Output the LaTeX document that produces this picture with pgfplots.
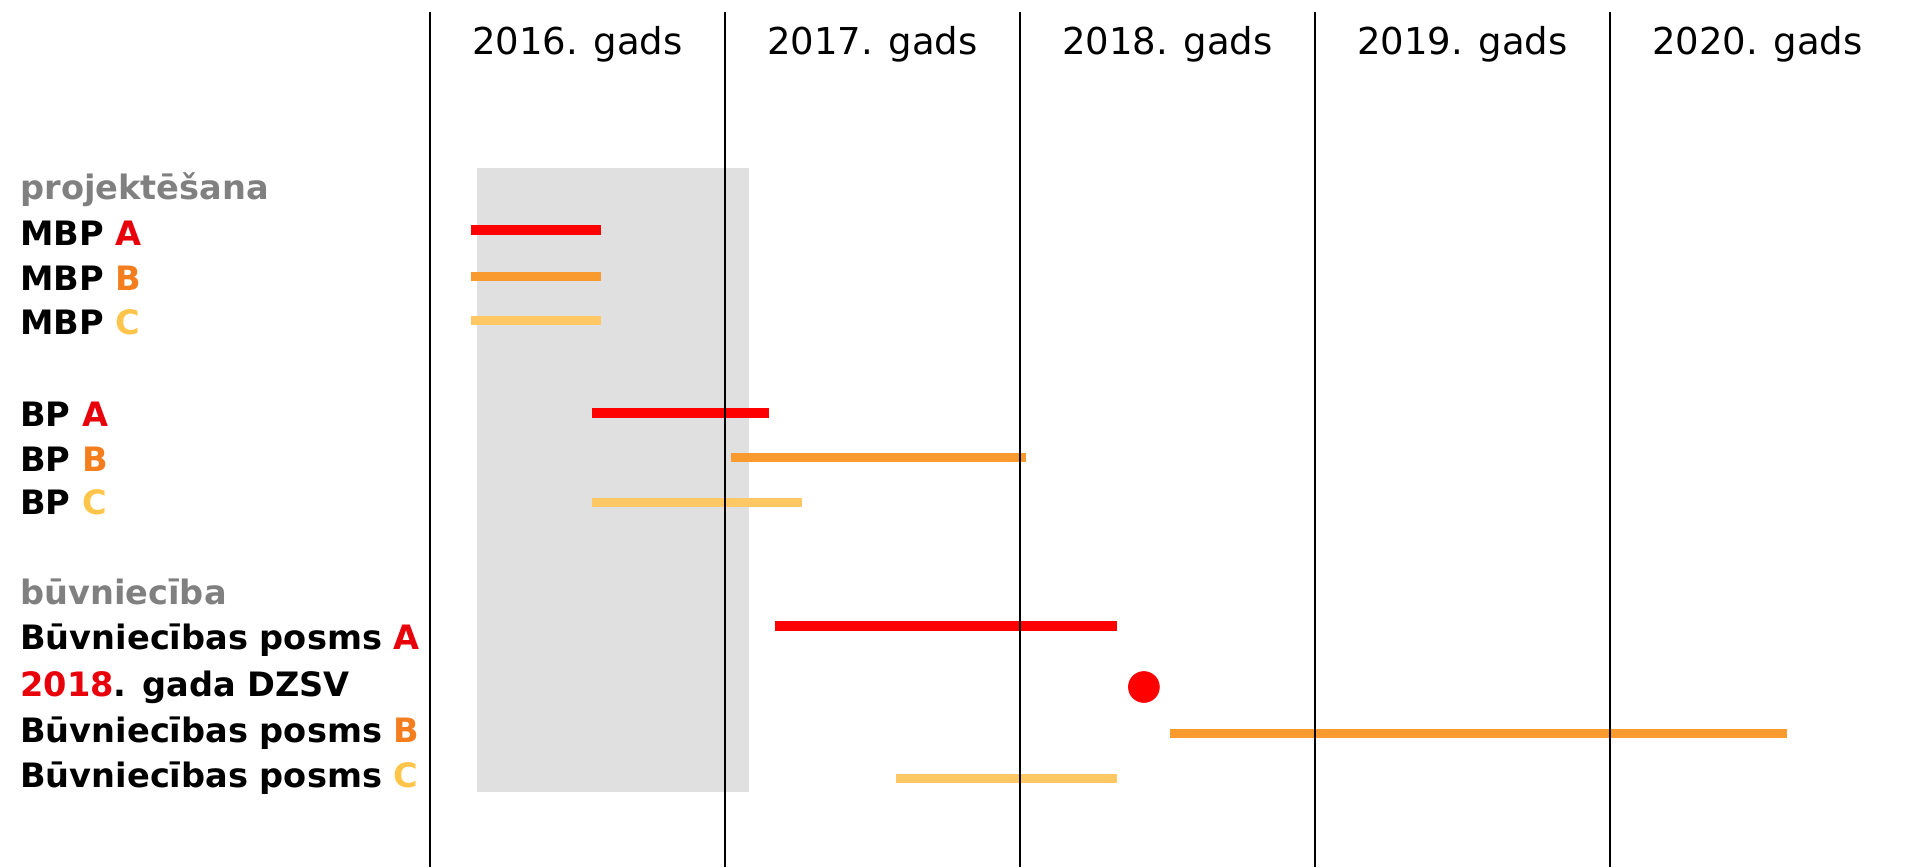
\documentclass[border=0pt]{standalone}
\usepackage{fontspec}
\setmainfont{DejaVu Sans}
\usepackage{pgfplots}
\pgfplotsset{compat=1.18}
\definecolor{cRed}{HTML}{FF0000}
\definecolor{cOrange}{HTML}{F99A2E}
\definecolor{cYellow}{HTML}{FFC864}
\definecolor{lRed}{HTML}{E8000B}
\definecolor{lOrange}{HTML}{F47D1E}
\definecolor{lYellow}{HTML}{FFC54A}
\definecolor{lGray}{HTML}{808080}
\definecolor{boxGray}{HTML}{E0E0E0}
\begin{document}
\begin{tikzpicture}
\begin{axis}[
  scale only axis, width=737.5pt, height=427.5pt,
  xmin=2016, xmax=2021, ymin=0, ymax=855,
  axis line style={draw=none},
  axis on top,
  clip=false,
  xtick={2016.5,2017.5,2018.5,2019.5,2020.5},
  xticklabels={2016. gads,2017. gads,2018. gads,2019. gads,2020. gads},
  xticklabel pos=upper,
  xticklabel style={anchor=base, inner sep=0pt, yshift=-21.15pt, font=\fontsize{18.5}{22}\selectfont},
  minor xtick={2016,2017,2018,2019,2020},
  xminorgrids,
  minor grid style={black, line width=0.8pt},
  major tick length=0pt, minor tick length=0pt,
  ytick={92.5,137.5,182.5,229.5,274.5,364.5,407.5,452.5,544.5,588.5,633.5,679.5},
  yticklabels={
    {Būvniecības posms {\color{lYellow}C}},
    {Būvniecības posms {\color{lOrange}B}},
    {{\color{lRed}2018}. gada DZSV},
    {Būvniecības posms {\color{lRed}A}},
    {\color{lGray}būvniecība},
    {BP {\color{lYellow}C}},
    {BP {\color{lOrange}B}},
    {BP {\color{lRed}A}},
    {MBP {\color{lYellow}C}},
    {MBP {\color{lOrange}B}},
    {MBP {\color{lRed}A}},
    {\color{lGray}projektēšana}},
  yticklabel style={anchor=base west, inner sep=0pt, xshift=-205pt, yshift=-6.25pt, font=\fontsize{16.8}{20}\selectfont\bfseries},
]
% grey background block
\addplot[fill=boxGray, draw=none] coordinates {(2016.16,75) (2017.08,75) (2017.08,699) (2016.16,699)} -- cycle;
% projektēšana
\addplot[cRed, line width=4.8pt] coordinates {(2016.14,637) (2016.58,637)};
\addplot[cOrange, line width=4.5pt] coordinates {(2016.14,590) (2016.58,590)};
\addplot[cYellow, line width=4.5pt] coordinates {(2016.14,546) (2016.58,546)};
\addplot[cRed, line width=4.8pt] coordinates {(2016.55,454) (2017.15,454)};
\addplot[cOrange, line width=4.5pt] coordinates {(2017.02,409) (2018.02,409)};
\addplot[cYellow, line width=4.5pt] coordinates {(2016.55,364) (2017.26,364)};
% būvniecība
\addplot[cRed, line width=4.8pt] coordinates {(2017.17,241) (2018.33,241)};
\addplot[cRed, only marks, mark=*, mark size=7.7pt, mark options={fill=cRed, draw=cRed}] coordinates {(2018.42,180)};
\addplot[cOrange, line width=4.5pt] coordinates {(2018.51,134) (2020.60,134)};
\addplot[cYellow, line width=4.5pt] coordinates {(2017.58,89) (2018.33,89)};
\end{axis}
\pgfresetboundingbox
\path (current axis.south west) ++(-215pt,0pt) rectangle ([yshift=6pt]current axis.north east);
\end{tikzpicture}
\end{document}
